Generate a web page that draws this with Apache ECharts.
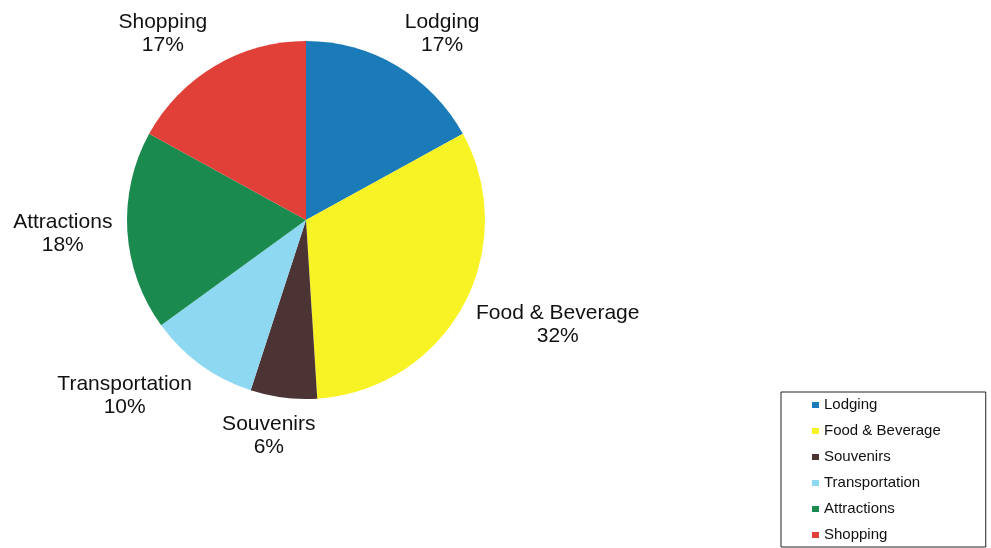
<!DOCTYPE html>
<html>
<head>
<meta charset="utf-8">
<script src="https://cdn.jsdelivr.net/npm/echarts@6/dist/echarts.min.js"></script>
<style>
html,body{margin:0;padding:0;background:#fff;}
#chart{width:991px;height:548px;}
</style>
</head>
<body>
<div id="chart"></div>
<script>
const categories = ['Lodging', 'Food & Beverage', 'Souvenirs', 'Transportation', 'Attractions', 'Shopping'];
const values = [17, 32, 6, 10, 18, 17];
const colors = ['#1b7bb8', '#f8f325', '#4c3434', '#8fd8f2', '#1b8a4f', '#e04038'];

const CX = 306, CY = 220, R = 179, GAP = 15;
const total = values.reduce((a, b) => a + b, 0);

function layoutLabel(params) {
  const i = params.dataIndex;
  let cum = 0;
  for (let j = 0; j < i; j++) cum += values[j];
  const mid = (cum + values[i] / 2) / total * Math.PI * 2;
  const dx = Math.sin(mid), dy = -Math.cos(mid);
  const px = CX + dx * (R + GAP), py = CY + dy * (R + GAP);
  const w = params.labelRect.width, h = params.labelRect.height;
  const fx = Math.max(-1, Math.min(1, 2.2 * dx));
  return { x: px + fx * w / 2, y: py + dy * h / 2, align: 'center', verticalAlign: 'middle' };
}

const chart = echarts.init(document.getElementById('chart'), null, { renderer: 'canvas' });
chart.setOption({
  animation: false,
  color: colors,
  legend: {
    orient: 'vertical',
    left: 781,
    top: 392,
    padding: [5, 45, 4, 31],
    itemGap: 10,
    itemWidth: 7,
    itemHeight: 6,
    itemTextGap: 3,
    icon: 'rect',
    borderColor: '#222',
    borderWidth: 1,
    textStyle: { fontFamily: 'Liberation Sans, Arial, sans-serif', fontSize: 15, lineHeight: 16, color: '#111' },
    data: categories
  },
  series: [{
    type: 'pie',
    center: [CX, CY],
    radius: R,
    startAngle: 90,
    clockwise: true,
    percentPrecision: 0,
    avoidLabelOverlap: false,
    label: {
      show: true,
      position: 'outside',
      formatter: '{b}\n{d}%',
      fontFamily: 'Liberation Sans, Arial, sans-serif',
      fontSize: 21,
      lineHeight: 23,
      color: '#111'
    },
    labelLine: { show: false },
    labelLayout: layoutLabel,
    emphasis: { disabled: true },
    itemStyle: { borderWidth: 0 },
    data: categories.map((c, i) => ({ name: c, value: values[i] }))
  }]
});
</script>
</body>
</html>
